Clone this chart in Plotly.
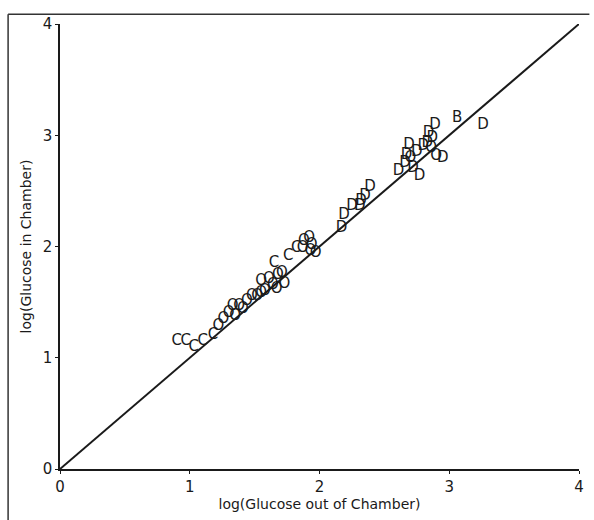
import plotly.graph_objects as go

# Group C (lower cluster)
c_x = [0.90, 0.97, 1.03, 1.10, 1.18, 1.22, 1.26, 1.30, 1.33, 1.38, 1.35, 1.41, 1.44, 1.48,
       1.52, 1.55, 1.58, 1.55, 1.61, 1.64, 1.67, 1.68, 1.73, 1.71, 1.65, 1.76, 1.82, 1.88,
       1.92, 1.93, 1.97, 1.94, 1.87]
c_y = [1.15, 1.15, 1.09, 1.15, 1.20, 1.28, 1.35, 1.40, 1.46, 1.46, 1.37, 1.44, 1.51, 1.55,
       1.55, 1.58, 1.60, 1.69, 1.71, 1.65, 1.62, 1.74, 1.66, 1.76, 1.85, 1.91, 1.98, 2.05,
       2.07, 1.96, 1.94, 2.01, 1.98]
c_lab = ["C", "C", "C", "C", "C", "O", "O", "O", "O", "O", "O", "O", "O", "O",
         "O", "O", "O", "O", "O", "O", "O", "O", "O", "O", "C", "C", "C", "O",
         "O", "O", "O", "O", "O"]

# Group D (upper cluster)
d_x = [2.17, 2.19, 2.25, 2.31, 2.32, 2.35, 2.39, 2.61, 2.66, 2.67, 2.70, 2.72, 2.77, 2.75,
       2.80, 2.83, 2.86, 2.87, 2.84, 2.89, 2.90, 2.95, 2.69, 3.06, 3.26]
d_y = [2.16, 2.28, 2.36, 2.36, 2.41, 2.45, 2.53, 2.68, 2.75, 2.82, 2.79, 2.70, 2.63, 2.85,
       2.90, 2.93, 2.88, 2.97, 3.02, 3.09, 2.81, 2.79, 2.91, 3.15, 3.09]
d_lab = ["D", "D", "D", "D", "D", "D", "D", "D", "D", "D", "O", "D", "D", "D",
         "D", "D", "O", "D", "D", "D", "O", "D", "D", "B", "D"]

line_x = [0, 4]
line_y = [0, 4]

x_ticks = [0, 1, 2, 3, 4]
y_ticks = [0, 1, 2, 3, 4]

ink = "#1a1a1a"

fig = go.Figure()
fig.add_trace(go.Scatter(x=line_x, y=line_y, mode="lines",
                         line=dict(color=ink, width=2), showlegend=False,
                         hoverinfo="skip"))
fig.add_trace(go.Scatter(x=c_x, y=c_y, mode="text", text=c_lab,
                         textfont=dict(family="DejaVu Sans", size=15, color=ink),
                         textposition="middle center", showlegend=False))
fig.add_trace(go.Scatter(x=d_x, y=d_y, mode="text", text=d_lab,
                         textfont=dict(family="DejaVu Sans", size=15, color=ink),
                         textposition="middle center", showlegend=False))

axis_common = dict(range=[0, 4], showgrid=False, zeroline=False, showline=True,
                   linecolor=ink, linewidth=1.6, ticks="outside", ticklen=3,
                   tickcolor=ink, tickfont=dict(family="DejaVu Sans", size=15, color=ink),
                   title_font=dict(family="DejaVu Sans", size=14, color=ink),
                   tickvals=x_ticks, fixedrange=True)

fig.update_xaxes(**axis_common, title_text="log(Glucose out of Chamber)", title_standoff=4)
fig.update_yaxes(**dict(axis_common, tickvals=y_ticks), title_text="log(Glucose in Chamber)",
                 title_standoff=8)

# outer frame (top and left)
fig.add_shape(type="line", xref="paper", yref="paper", x0=-0.1, x1=1.02, y0=1.022, y1=1.022,
              line=dict(color="#333", width=1.5))
fig.add_shape(type="line", xref="paper", yref="paper", x0=-0.1, x1=-0.1, y0=1.022, y1=-0.12,
              line=dict(color="#333", width=1.5))

fig.update_layout(width=594, height=520, margin=dict(l=59.5, r=10, t=24, b=49),
                  plot_bgcolor="white", paper_bgcolor="white")

fig.write_html("out.html")
